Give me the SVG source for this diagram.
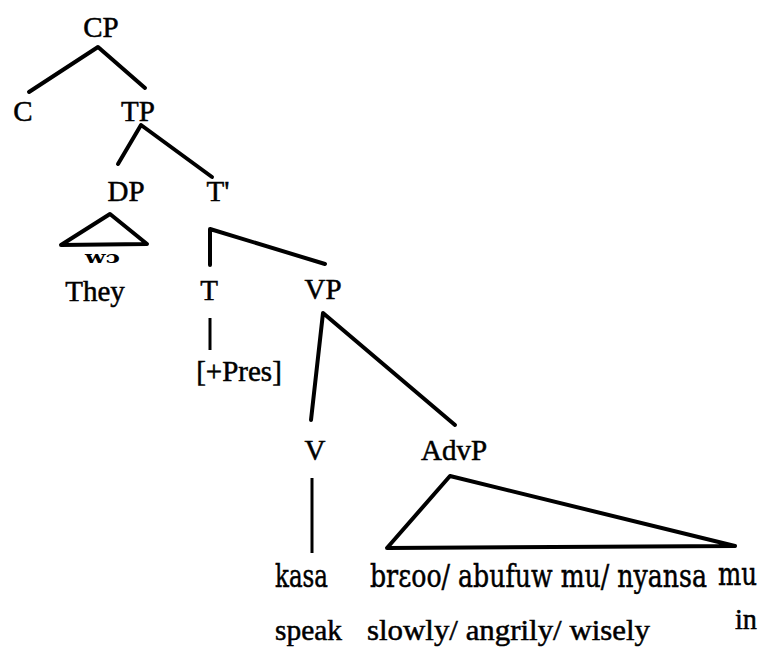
<svg xmlns="http://www.w3.org/2000/svg" width="770" height="648" viewBox="0 0 770 648">
<style>
.lbl{font-family:'Liberation Serif','DejaVu Serif',serif;font-size:29px;fill:#000;stroke:#000;stroke-width:0.5;text-anchor:middle}
.ak{font-family:'DejaVu Serif','Liberation Serif',serif;font-size:25px;fill:#000;stroke:#000;stroke-width:0.4}
.gl{font-family:'Liberation Serif','DejaVu Serif',serif;font-size:29px;fill:#000;stroke:#000;stroke-width:0.5}
.sm{font-family:'DejaVu Serif',serif;font-size:16px;font-weight:bold;fill:#000}
.ln{stroke:#000;stroke-width:4;fill:none;stroke-linecap:round;stroke-linejoin:round}
.thin{stroke:#000;stroke-width:3;fill:none}
</style>
<rect width="770" height="648" fill="#fff"/>
<g id="connectors">
<path class="ln" d="M29,92 L98,47 L145,88"/>
<path class="ln" d="M118,164 L141,125 L212,177"/>
<path class="ln" d="M210,265 L210,229 L325,264"/>
<path class="thin" d="M210,318 L210,350"/>
<path class="ln" d="M311,420 L323,313 L455,425"/>
<path class="thin" d="M312,478 L312,553"/>
</g>
<g id="CP"><text class="lbl" x="101" y="37">CP</text></g>
<g id="C"><text class="lbl" x="23" y="121">C</text></g>
<g id="TP"><text class="lbl" x="138" y="121">TP</text></g>
<g id="DP">
<text class="lbl" x="126" y="201">DP</text>
<path class="ln" d="M61,245 L110,214 L147,244 Z"/>
<text class="sm" x="85" y="263" textLength="35" lengthAdjust="spacingAndGlyphs">wɔ</text>
<text class="lbl" x="95" y="301">They</text>
</g>
<g id="Tbar"><text class="lbl" x="218" y="201">T'</text></g>
<g id="T">
<text class="lbl" x="209" y="300">T</text>
<text class="lbl" x="239" y="381">[+Pres]</text>
</g>
<g id="VP"><text class="lbl" x="323" y="299">VP</text></g>
<g id="V"><text class="lbl" x="315" y="460">V</text></g>
<g id="AdvP">
<text class="lbl" x="454" y="460">AdvP</text>
<path class="ln" d="M387,548 L450,476 L735,546 Z"/>
</g>
<g id="gloss">
<g transform="translate(0,587) scale(1,1.25)">
<text class="ak" x="275" y="0" textLength="53" lengthAdjust="spacingAndGlyphs">kasa</text>
<text class="ak" x="370" y="0" textLength="337" lengthAdjust="spacingAndGlyphs">brɛoo/ abufuw mu/ nyansa</text>
</g>
<g transform="translate(0,585) scale(1,1.25)">
<text class="ak" x="718" y="0" textLength="39" lengthAdjust="spacingAndGlyphs">mu</text>
</g>
<text class="gl" x="275" y="640" textLength="67" lengthAdjust="spacingAndGlyphs">speak</text>
<text class="gl" x="367" y="640" textLength="283" lengthAdjust="spacingAndGlyphs">slowly/ angrily/ wisely</text>
<text class="gl" x="735" y="629" textLength="22" lengthAdjust="spacingAndGlyphs">in</text>
</g>
</svg>
